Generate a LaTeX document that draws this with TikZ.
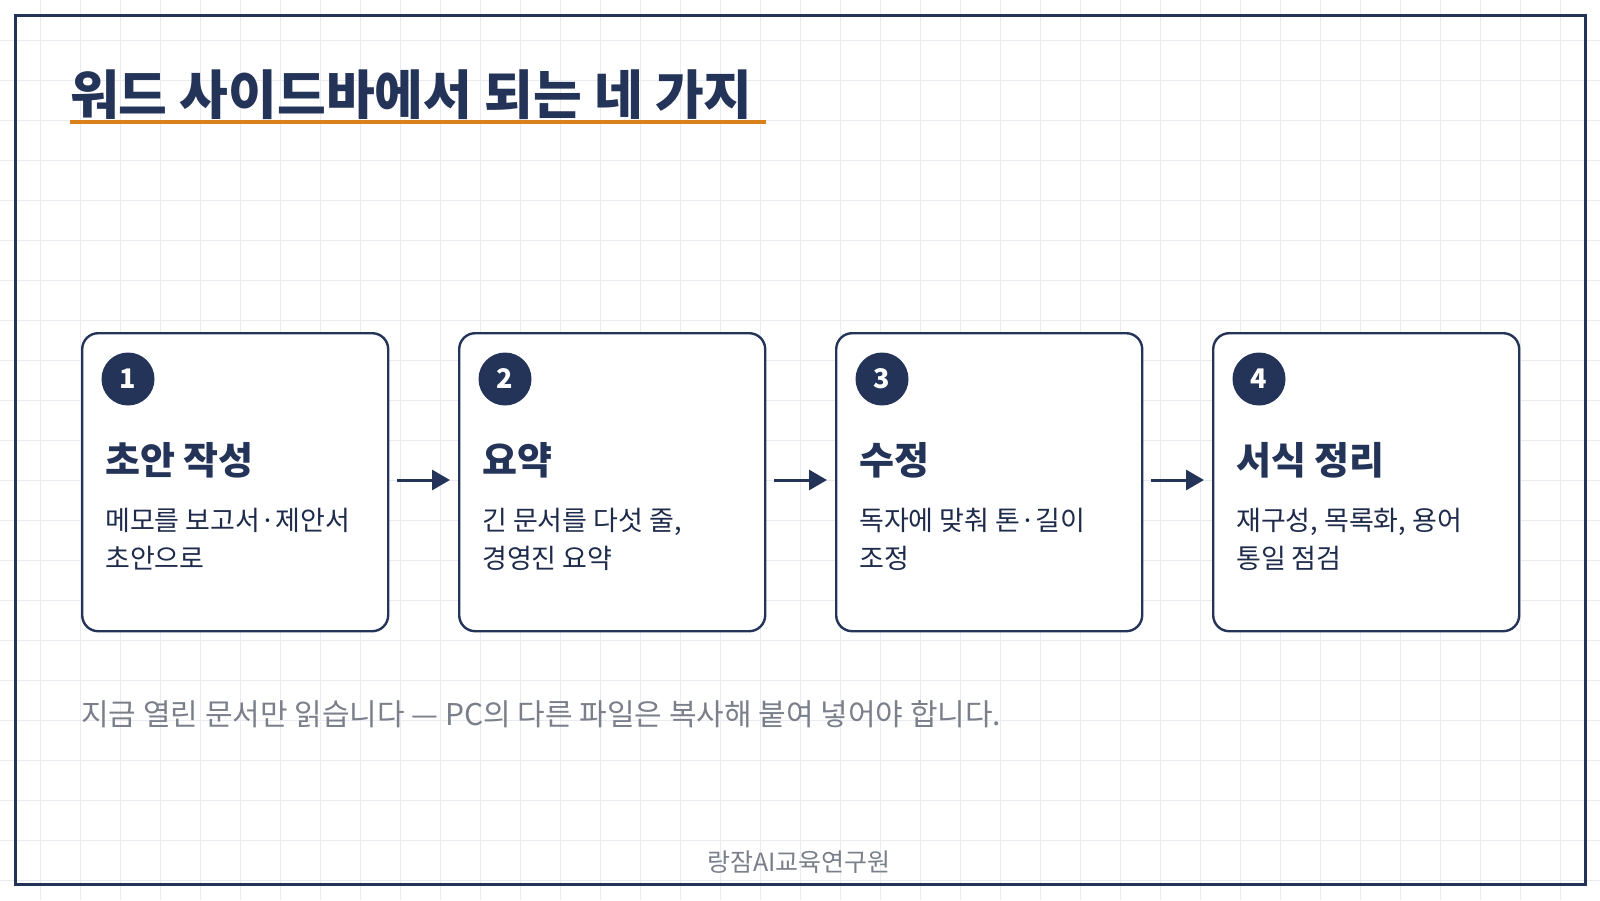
\documentclass[tikz,border=0pt]{standalone}
\usepackage{fontspec}
\setmainfont{Noto Sans CJK KR}
\usetikzlibrary{positioning, arrows.meta}
\definecolor{navy}{HTML}{243358}
\definecolor{accent}{HTML}{D98018}
\definecolor{gridc}{HTML}{E9EBF1}
\definecolor{note}{HTML}{7A7F8A}
\begin{document}
\begin{tikzpicture}[x=1pt, y=-1pt,
    card/.style={draw=navy, line width=2.4pt, rounded corners=16pt, fill=white, minimum width=306pt, minimum height=298pt, anchor=north west},
    badge/.style={circle, fill=navy, text=white, minimum size=53pt, inner sep=0pt, font=\fontsize{27}{30}\selectfont\bfseries},
    head/.style={anchor=west, text=navy, inner sep=0pt, font=\fontsize{38}{42}\selectfont\bfseries},
    desc/.style={anchor=north west, text=navy!85!black, inner sep=0pt, align=left, font=\fontsize{27}{38}\selectfont},
    flow/.style={-{Triangle[length=18pt, width=20pt]}, draw=navy, line width=3pt}]
    % Background
    \useasboundingbox (0,0) rectangle (1600,900);
    \fill[white] (0,0) rectangle (1600,900);
    \foreach \g in {40,80,...,1560} \draw[gridc, line width=1pt] (\g,0) -- (\g,900);
    \foreach \g in {40,80,...,880} \draw[gridc, line width=1pt] (0,\g) -- (1600,\g);
    \draw[navy, line width=3pt] (15,15) rectangle (1585,884);
    % Title
    \node[anchor=base west, inner sep=0pt, text=navy, font=\fontsize{53}{60}\selectfont\bfseries] (title) at (70,114) {워드 사이드바에서 되는 네 가지};
    \draw[accent, line width=4pt] (70,122) -- (766,122);
    % Steps
    \foreach \i/\x/\h/\d in {1/81/초안 작성/{메모를 보고서·제안서\\초안으로},
                            2/458/요약/{긴 문서를 다섯 줄,\\경영진 요약},
                            3/835/수정/{독자에 맞춰 톤·길이\\조정},
                            4/1212/서식 정리/{재구성, 목록화, 용어\\통일 점검}} {
        \node[card] (box\i) at (\x,332) {};
        \node[badge] (num\i) at (\x+47,379) {\raisebox{-3pt}{\i}};
        \node[head] (head\i) at (\x+24,460) {\h};
        \node[desc] (desc\i) at (\x+24,508) {\d};
    }
    % Arrows
    \foreach \a/\b in {1/2, 2/3, 3/4}
        \draw[flow] ([xshift=8pt]box\a.east |- 0,480) -- ([xshift=-8pt]box\b.west |- 0,480);
    % Notes
    \node[anchor=west, inner sep=0pt, text=note, font=\fontsize{30}{32}\selectfont] (note) at (81,714) {지금 열린 문서만 읽습니다 — PC의 다른 파일은 복사해 붙여 넣어야 합니다.};
    \node[inner sep=0pt, text=note, font=\fontsize{25}{28}\selectfont] (brand) at (799,862) {랑잠AI교육연구원};
\end{tikzpicture}
\end{document}
